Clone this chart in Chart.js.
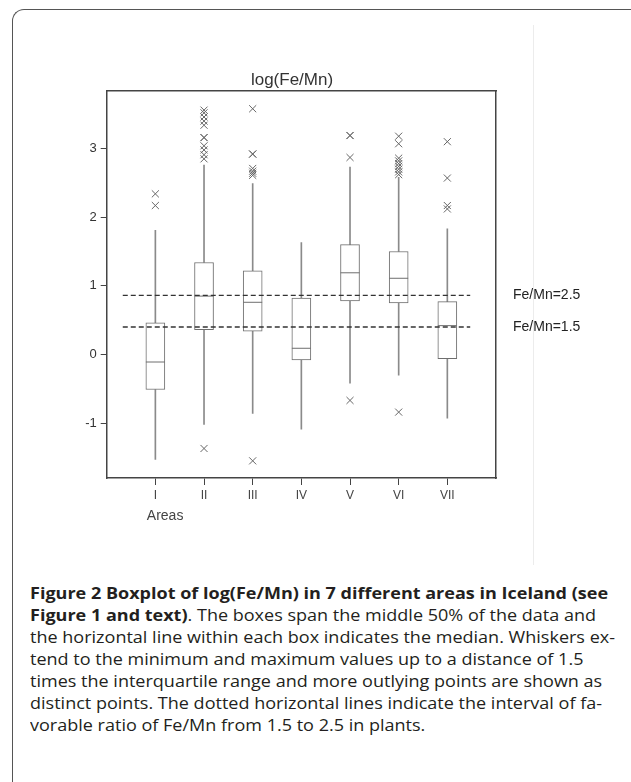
<!DOCTYPE html>
<html><head><meta charset="utf-8">
<script src="https://cdn.jsdelivr.net/npm/chart.js@4.4.0/dist/chart.umd.min.js"></script>
<style>
html,body{margin:0;padding:0;background:#fff;width:631px;height:782px;overflow:hidden;position:relative}
#frame{position:absolute;left:12px;top:9px;width:640px;height:800px;border-left:1px solid #555;border-top:1px solid #555;border-top-left-radius:12px;}
#edge{position:absolute;left:533px;top:25px;width:1px;height:540px;background:#ececec}
#wrap{position:absolute;left:0;top:50px;width:584px;height:500px}
#cap{position:absolute;left:30px;top:582px;font-family:"Open Sans";font-size:16.5px;line-height:22px;color:#231f20;white-space:nowrap;transform-origin:0 0}
#cap div{white-space:nowrap}
</style></head>
<body>
<div id="frame"></div>
<div id="edge"></div>
<div id="wrap"><canvas id="c" width="584" height="500"></canvas></div>
<div id="cap">
<div id="l1"><b>Figure 2 Boxplot of log(Fe/Mn) in 7 different areas in Iceland (see</b></div>
<div><b>Figure 1 and text)</b>. The boxes span the middle 50% of the data and</div>
<div>the horizontal line within each box indicates the median. Whiskers ex-</div>
<div>tend to the minimum and maximum values up to a distance of 1.5</div>
<div>times the interquartile range and more outlying points are shown as</div>
<div>distinct points. The dotted horizontal lines indicate the interval of fa-</div>
<div>vorable ratio of Fe/Mn from 1.5 to 2.5 in plants.</div>
</div>
<script>
// ---- data ----
const areas = ['I', 'II', 'III', 'IV', 'V', 'VI', 'VII'];
const whiskerLow  = [-1.53, -1.02, -0.86, -1.09, -0.42, -0.30, -0.93];
const q1          = [-0.51,  0.36,  0.34, -0.08,  0.78,  0.75, -0.06];
const median      = [-0.11,  0.85,  0.76,  0.09,  1.19,  1.11,  0.42];
const q3          = [ 0.46,  1.34,  1.22,  0.82,  1.60,  1.50,  0.77];
const whiskerHigh = [ 1.81,  2.76,  2.49,  1.63,  2.73,  2.58,  1.83];
const outliersI   = [2.34, 2.17];
const outliersII  = [3.56, 3.52, 3.46, 3.40, 3.34, 3.16, 3.16, 3.04, 2.98, 2.91, 2.85, -1.37];
const outliersIII = [3.58, 2.92, 2.92, 2.71, 2.67, 2.64, 2.61, -1.55];
const outliersIV  = [];
const outliersV   = [3.19, 3.19, 2.87, -0.67];
const outliersVI  = [3.18, 3.07, 2.86, 2.82, 2.78, 2.74, 2.70, 2.66, 2.62, -0.84];
const outliersVII = [3.10, 2.57, 2.17, 2.12];
const outliers = [outliersI, outliersII, outliersIII, outliersIV, outliersV, outliersVI, outliersVII];
const refLevels = [0.86, 0.40];
const refLabels = ['Fe/Mn=2.5', 'Fe/Mn=1.5'];
const yTicks = [-1, 0, 1, 2, 3];
const yMin = -1.8, yMax = 3.84;
const xMin = 0, xMax = 8;
const refStart = 0.33, refEnd = 7.47;
const areasLabelPos = 1.2;

// ---- build datasets ----
const pos = areas.map((_, i) => i + 1);
const boxData = pos.map((x, i) => ({x, y: [q1[i], q3[i]]}));
const whiskerData = pos.flatMap((x, i) => [{x, y: [whiskerLow[i], q1[i]]}, {x, y: [q3[i], whiskerHigh[i]]}]);
const medianData = pos.map((x, i) => ({x, y: median[i]}));
const outlierData = pos.flatMap((x, i) => outliers[i].map(v => ({x, y: v})));
const gray = '#6e6e6e';

const datasets = [
  {type: 'bar', data: whiskerData, barThickness: 1, backgroundColor: '#8a8a8a', borderWidth: 0, grouped: false, order: 5},
  {type: 'bar', data: boxData, barThickness: 19, backgroundColor: '#fff', borderColor: gray, borderWidth: 1, borderSkipped: false, grouped: false, order: 4},
  {type: 'scatter', data: medianData, pointStyle: 'line', pointRadius: 9.5, borderColor: gray, borderWidth: 1, order: 3},
  ...refLevels.map(v => ({type: 'line', data: [{x: refStart, y: v}, {x: refEnd, y: v}], borderColor: '#333', borderWidth: 1.3, borderDash: [5, 3], pointRadius: 0, fill: false, order: 2})),
  {type: 'scatter', data: outlierData, pointStyle: 'crossRot', pointRadius: 5, borderColor: '#666', borderWidth: 1, order: 1}
];

Chart.defaults.font.family = 'Arial, "Liberation Sans", sans-serif';
Chart.defaults.color = '#333';

new Chart(document.getElementById('c'), {
  type: 'bar',
  data: {datasets},
  options: {
    responsive: false,
    animation: false,
    events: [],
    layout: {padding: 0},
    plugins: {
      legend: {display: false},
      tooltip: {enabled: false},
      title: {display: true, text: 'log(Fe/Mn)', color: '#333', font: {size: 17, weight: 'normal'}, padding: {top: 20.5, bottom: 0}}
    },
    scales: {
      x: {
        type: 'linear', position: 'bottom', min: xMin, max: xMax, offset: false,
        afterBuildTicks: s => { s.ticks = pos.map(v => ({value: v})); },
        ticks: {callback: v => areas[v - 1], font: {size: 12}, color: '#444', padding: 3, maxRotation: 0, autoSkip: false},
        grid: {display: true, offset: false, drawOnChartArea: false, drawTicks: true, tickLength: 7, color: '#444', lineWidth: 1},
        border: {display: true, color: '#444', width: 1.5},
        afterFit: s => { s.height = 28; }
      },
      xAreas: {
        type: 'linear', position: 'bottom', min: xMin, max: xMax, offset: false,
        afterBuildTicks: s => { s.ticks = [{value: areasLabelPos}]; },
        ticks: {callback: () => 'Areas', font: {size: 14}, color: '#444', padding: 2, maxRotation: 0, autoSkip: false},
        grid: {display: false, offset: false, drawTicks: false},
        border: {display: false},
        afterFit: s => { s.height = 44; }
      },
      xTop: {
        type: 'linear', position: 'top', min: xMin, max: xMax,
        ticks: {display: false},
        grid: {display: false, offset: false, drawTicks: false},
        border: {display: true, color: '#444', width: 1.5},
        afterFit: s => { s.height = 0; }
      },
      y: {
        type: 'linear', position: 'left', min: yMin, max: yMax,
        afterBuildTicks: s => { s.ticks = yTicks.map(v => ({value: v})); },
        ticks: {font: {size: 13}, color: '#333', padding: 4},
        grid: {display: true, drawOnChartArea: false, drawTicks: true, tickLength: 6, color: '#444'},
        border: {display: true, color: '#444', width: 1.5},
        afterFit: s => { s.width = 106.7; }
      },
      yRef: {
        type: 'linear', position: 'right', min: yMin, max: yMax,
        afterBuildTicks: s => { s.ticks = refLevels.map(v => ({value: v})); },
        ticks: {callback: (v, i) => refLabels[i], font: {size: 14}, color: '#222', padding: 17},
        grid: {display: false, drawTicks: false},
        border: {display: true, color: '#444', width: 1.5},
        afterFit: s => { s.width = 88; }
      }
    }
  }
});

// fit caption width to the reference column
const cap = document.getElementById('cap');
const w1 = document.getElementById('l1').getBoundingClientRect().width;
cap.style.transform = 'scaleX(' + (585 / w1) + ')';
</script>
</body></html>
